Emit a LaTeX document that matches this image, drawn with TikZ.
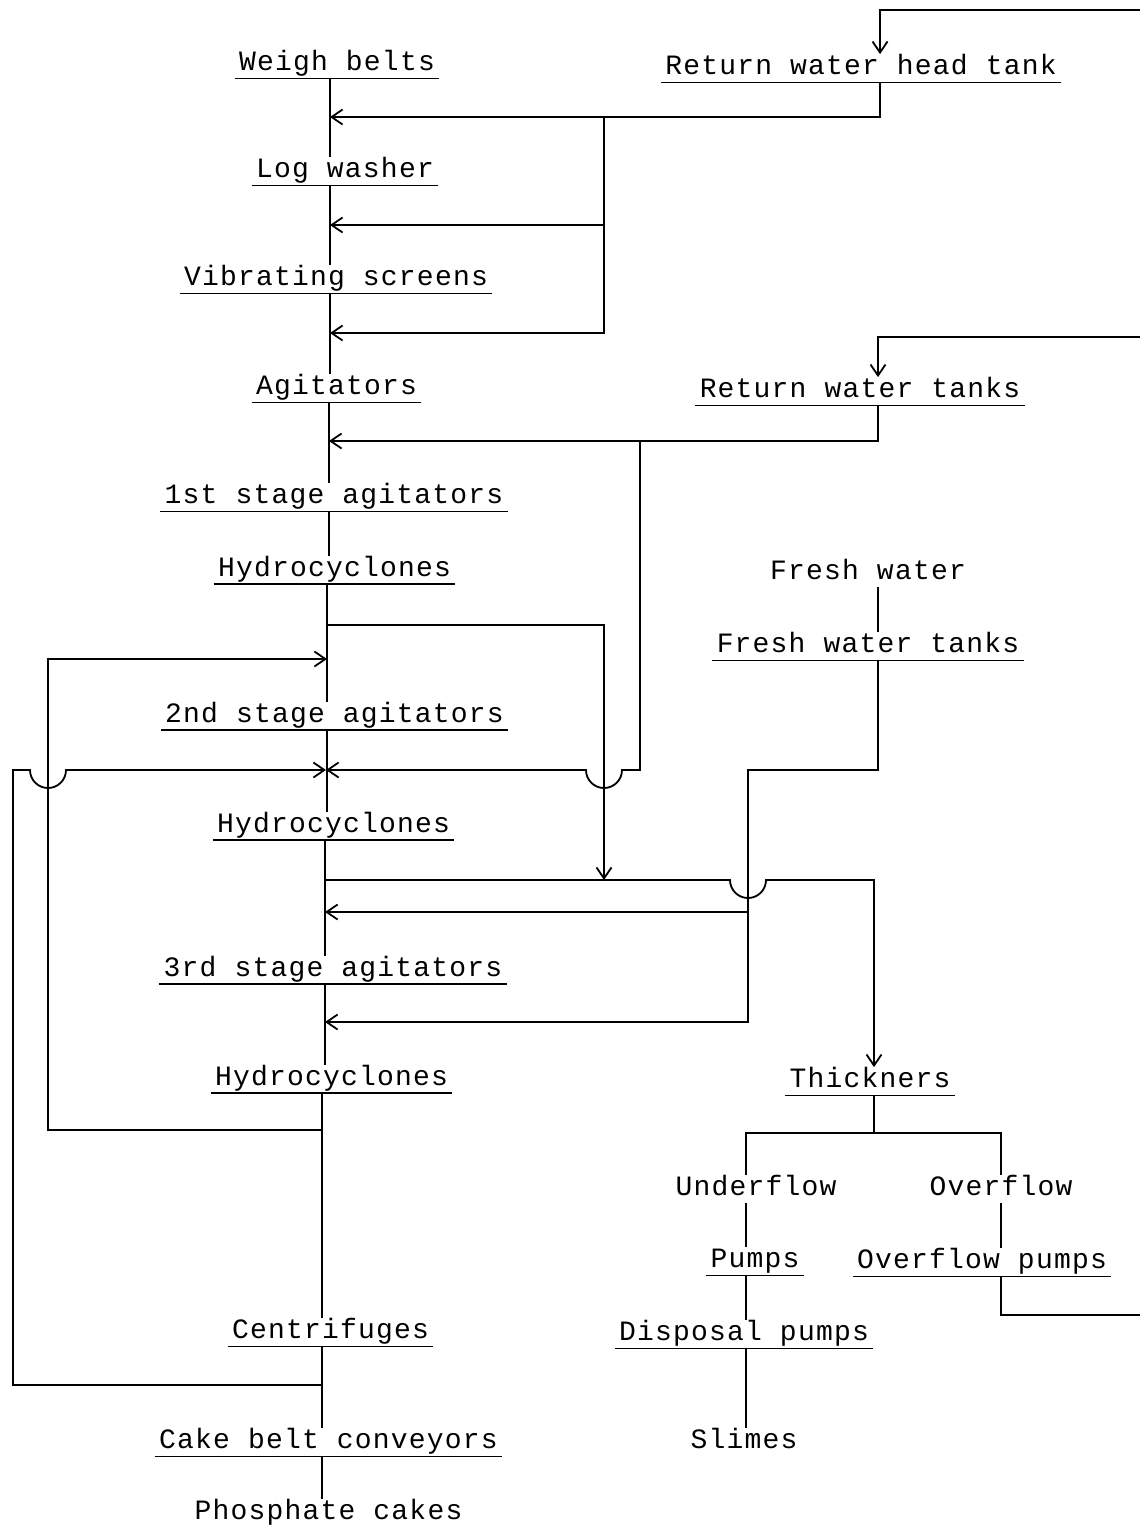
\documentclass[tikz,border=0pt]{standalone}
\usepackage{fontspec}
\newfontfamily\lblfont{Liberation Mono}[LetterSpace=4.3]
\usetikzlibrary{arrows.meta}
\begin{document}
\begin{tikzpicture}[x=0.5pt,y=-0.5pt,
  line/.style={line width=0.9pt},
  arr/.style={line, -{Straight Barb[length=5.5pt,width=7.5pt]}},
  lbl/.style={font=\lblfont\fontsize{14pt}{16pt}\selectfont, inner xsep=2pt, inner ysep=1pt, text height=9pt, text depth=2.75pt, anchor=base},
  ul/.style={lbl, append after command={(\tikzlastnode.south west) edge[draw, line width=0.8pt] (\tikzlastnode.south east)}}]
\useasboundingbox (0,0) rectangle (1140,1526);

% main column
\node[ul] (wb) at (337,70.5) {Weigh belts};
\node[ul] (lw) at (345,177.5) {Log washer};
\node[ul] (vs) at (336,285.5) {Vibrating screens};
\node[ul] (ag) at (336.5,394.5) {Agitators};
\node[ul] (s1) at (334,503.5) {1st stage agitators};
\node[ul] (h1) at (334.5,576) {Hydrocyclones};
\node[ul] (s2) at (334.5,722) {2nd stage agitators};
\node[ul] (h2) at (333.5,832) {Hydrocyclones};
\node[ul] (s3) at (333,976) {3rd stage agitators};
\node[ul] (h3) at (331.5,1085) {Hydrocyclones};
\node[ul] (ce) at (330.5,1338.5) {Centrifuges};
\node[ul] (cb) at (328.5,1448.5) {Cake belt conveyors};
\node[lbl] (pc) at (328.5,1519) {Phosphate cakes};

% right side
\node[ul] (rh) at (861,74.5) {Return water head tank};
\node[ul] (rt) at (860,397.5) {Return water tanks};
\node[lbl] (fw) at (868,579) {Fresh water};
\node[ul] (ft) at (868,652.5) {Fresh water tanks};
\node[ul] (th) at (870,1087.5) {Thickners};
\node[lbl] (uf) at (756,1195) {Underflow};
\node[lbl] (of) at (1001,1195) {Overflow};
\node[ul] (pu) at (755,1267.5) {Pumps};
\node[ul] (op) at (982,1268.5) {Overflow pumps};
\node[ul] (dp) at (744,1340.5) {Disposal pumps};
\node[lbl] (sl) at (744,1448) {Slimes};

% guide coordinates
\coordinate (xa) at (330,0);
\coordinate (xb) at (329,0);
\coordinate (xc) at (327,0);
\coordinate (xd) at (325,0);
\coordinate (xe) at (322,0);
\coordinate (c1) at (880,0);
\coordinate (c2) at (878,0);
\coordinate (cf) at (878,0);
\coordinate (ct) at (874,0);
\coordinate (cu) at (746,0);
\coordinate (co) at (1001,0);

% junctions on the main line
\coordinate (j1) at (330,117);
\coordinate (j2) at (330,225);
\coordinate (j3) at (330,333);
\coordinate (j4) at (329,441);
\coordinate (j5) at (327,625);
\coordinate (j5b) at (327,659);
\coordinate (j6) at (326,770);
\coordinate (j7) at (325,880);
\coordinate (j8) at (325,912);
\coordinate (j9) at (325,1022);
\coordinate (j11) at (323,1130);
\coordinate (j12) at (322,1385);
\coordinate (b1) at (604,117);
\coordinate (b2) at (640,441);
\coordinate (in1) at (1140,10);
\coordinate (in2) at (1140,337);
\coordinate (out3) at (1140,1315);
\coordinate (tb) at (874,1133);

% main line
\draw[line] (wb.south -| xa) -- (lw.north -| xa);
\draw[line] (lw.south -| xa) -- (vs.north -| xa);
\draw[line] (vs.south -| xa) -- (ag.north -| xa);
\draw[line] (ag.south -| xb) -- (s1.north -| xb);
\draw[line] (s1.south -| xb) -- (h1.north -| xb);
\draw[line] (h1.south -| xc) -- (s2.north -| xc);
\draw[line] (s2.south -| xc) -- (h2.north -| xc);
\draw[line] (h2.south -| xd) -- (s3.north -| xd);
\draw[line] (s3.south -| xd) -- (h3.north -| xd);
\draw[line] (h3.south -| xe) -- (ce.north -| xe);
\draw[line] (ce.south -| xe) -- (cb.north -| xe);
\draw[line] (cb.south -| xe) -- (pc.north -| xe);

% return water head tank
\draw[arr] (in1) -- (in1 -| c1) -- (rh.north -| c1);
\draw[arr] (rh.south -| c1) |- (j1);
\draw[arr] (b1) |- (j3);
\draw[arr] (b1 |- j2) -- (j2);

% return water tanks
\draw[arr] (in2) -- (in2 -| c2) -- (rt.north -| c2);
\draw[arr] (rt.south -| c2) |- (j4);
\draw[arr] (b2) -- (640,770) -- (622,770) arc[start angle=0,end angle=180,radius=18] -- (j6);

% hydrocyclones 1 overflow
\draw[arr] (j5) -- (604,625) -- (604,880);

% left loops
\draw[arr] (j11) -- (48,1130) -- (48,659) -- (j5b);
\draw[arr] (j12) -- (13,1385) -- (13,770) -- (30,770) arc[start angle=180,end angle=0,radius=18] -- (j6);

% hydrocyclones 2 to thickners
\draw[arr] (j7) -- (730,880) arc[start angle=180,end angle=0,radius=18] -- (874,880) -- (th.north -| ct);

% fresh water
\draw[line] (fw.south -| cf) -- (ft.north -| cf);
\draw[arr] (ft.south -| cf) |- (748,770) -- (748,1022) -- (j9);
\draw[arr] (748,912) -- (j8);

% thickners
\draw[line] (th.south -| ct) -- (tb);
\draw[line] (uf.north -| cu) |- (tb) -| (of.north -| co);
\draw[line] (uf.south -| cu) -- (pu.north -| cu);
\draw[line] (of.south -| co) -- (op.north -| co);
\draw[line] (op.south -| co) |- (out3);
\draw[line] (pu.south -| cu) -- (dp.north -| cu);
\draw[line] (dp.south -| cu) -- (sl.north -| cu);
\end{tikzpicture}
\end{document}
